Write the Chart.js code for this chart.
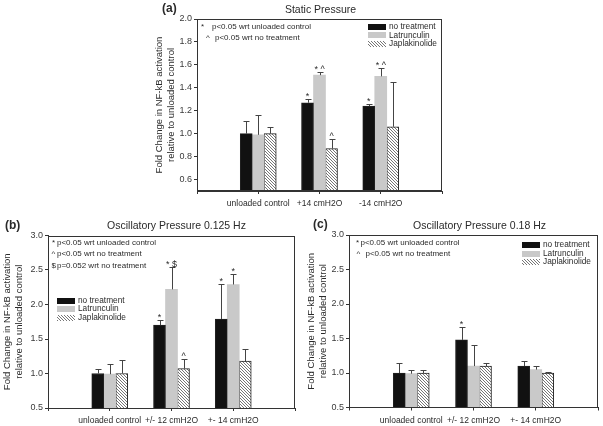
<!DOCTYPE html>
<html>
<head>
<meta charset="utf-8">
<script src="https://cdn.jsdelivr.net/npm/chart.js@4"></script>
<style>
  html, body { margin: 0; padding: 0; background: #fff; }
  body { width: 603px; height: 426px; position: relative; overflow: hidden; }
  canvas { position: absolute; }
</style>
</head>
<body>
<canvas id="chartA" width="310" height="215" style="left:150px;top:0px"></canvas>
<canvas id="chartB" width="300" height="211" style="left:0px;top:215px"></canvas>
<canvas id="chartC" width="303" height="211" style="left:300px;top:215px"></canvas>
<script>
// ---- data ----
const treatments = ['no treatment', 'Latrunculin', 'Japlakinolide'];
const yTitle = ['Fold Change in NF-kB activation', 'relative to unloaded control'];

// (a) static pressure
const staticCats = ['unloaded control', '+14 cmH2O', '-14 cmH2O'];
const staticNoTreat = [1.00, 1.27, 1.24];
const staticLatr = [0.99, 1.51, 1.50];
const staticJapl = [1.00, 0.87, 1.06];
const staticNoTreatErr = [1.11, 1.30, 1.26];
const staticLatrErr = [1.16, 1.54, 1.57];
const staticJaplErr = [1.06, 0.95, 1.45];
const staticMarks = [['', '*', '*'], ['', '* ^', '* ^'], ['', '^', '']];
const staticTicks = [0.6, 0.8, 1.0, 1.2, 1.4, 1.6, 1.8, 2.0];
const staticNotes = [['*', 'p<0.05 wrt unloaded control'], ['^', 'p<0.05 wrt no treatment']];

// (b) oscillatory 0.125 Hz
const oscCats = ['unloaded control', '+/- 12 cmH2O', '+- 14 cmH2O'];
const slowNoTreat = [1.00, 1.70, 1.79];
const slowLatr = [0.99, 2.22, 2.29];
const slowJapl = [1.00, 1.07, 1.18];
const slowNoTreatErr = [1.07, 1.77, 2.30];
const slowLatrErr = [1.14, 2.55, 2.44];
const slowJaplErr = [1.19, 1.21, 1.35];
const slowMarks = [['', '*', '*'], ['', '* $', '*'], ['', '^', '']];
const slowNotes = [['*', 'p<0.05 wrt unloaded control'], ['^', 'p<0.05 wrt no treatment'], ['$', 'p=0.052 wrt no treatment']];

// (c) oscillatory 0.18 Hz
const fastNoTreat = [1.00, 1.48, 1.10];
const fastLatr = [0.99, 1.10, 1.05];
const fastJapl = [1.00, 1.10, 1.00];
const fastNoTreatErr = [1.14, 1.67, 1.18];
const fastLatrErr = [1.04, 1.41, 1.10];
const fastJaplErr = [1.05, 1.14, 1.02];
const fastMarks = [['', '*', ''], ['', '', ''], ['', '', '']];
const fastNotes = [['*', 'p<0.05 wrt unloaded control'], ['^', 'p<0.05 wrt no treatment']];

const oscTicks = [0.5, 1.0, 1.5, 2.0, 2.5, 3.0];

// ---- drawing ----
const FONT = "'Liberation Sans', Arial, sans-serif";
const TEXT = '#2a2a2a';
const AXIS = '#333';

function hatch() {
  const c = document.createElement('canvas');
  c.width = 3; c.height = 3;
  const g = c.getContext('2d');
  g.fillStyle = '#fff';
  g.fillRect(0, 0, 3, 3);
  g.strokeStyle = '#666';
  g.lineWidth = 0.9;
  g.beginPath();
  g.moveTo(-1, -1); g.lineTo(4, 4);
  g.moveTo(2, -1); g.lineTo(4, 1);
  g.moveTo(-1, 2); g.lineTo(1, 4);
  g.stroke();
  return g.createPattern(c, 'repeat');
}
const fills = ['#111', '#c9c9c9', hatch()];

function makeChart(id, p) {
  const pad = arr => [null, ...arr, null];
  const datasets = p.series.map((vals, i) => ({
    label: treatments[i],
    data: pad(vals),
    backgroundColor: fills[i],
    borderColor: '#222',
    borderWidth: i === 1 ? 0 : 1,
    barThickness: 12
  }));

  const decor = {
    id: 'decor' + id,
    afterDatasetsDraw(chart) {
      const ctx = chart.ctx;
      const ys = chart.scales.y;
      ctx.save();
      ctx.strokeStyle = '#444';
      ctx.lineWidth = 1;
      p.errs.forEach((errs, i) => {
        const meta = chart.getDatasetMeta(i);
        errs.forEach((e, j) => {
          const el = meta.data[j + 1];
          const x = Math.round(el.x) + 0.5;
          const yt = Math.round(ys.getPixelForValue(e)) + 0.5;
          ctx.beginPath();
          ctx.moveTo(x, el.y);
          ctx.lineTo(x, yt);
          ctx.moveTo(x - 3, yt);
          ctx.lineTo(x + 3, yt);
          ctx.stroke();
          const m = p.marks[i][j];
          if (m) {
            ctx.fillStyle = TEXT;
            ctx.font = '9px ' + FONT;
            ctx.textAlign = 'center';
            ctx.textBaseline = 'alphabetic';
            ctx.fillText(m, el.x, yt - 1);
          }
        });
      });
      ctx.restore();
    },
    afterDraw(chart) {
      const ctx = chart.ctx;
      const a = chart.chartArea;
      ctx.save();
      // frame
      ctx.strokeStyle = AXIS;
      ctx.lineWidth = 1;
      ctx.strokeRect(Math.round(a.left) + 0.5, Math.round(a.top) + 0.5,
        Math.round(a.right - a.left) - 1, Math.round(a.bottom - a.top) - 1);
      // title and panel letter
      ctx.fillStyle = TEXT;
      ctx.textBaseline = 'middle';
      ctx.textAlign = 'center';
      ctx.font = '10.5px ' + FONT;
      ctx.fillText(p.title, (a.left + a.right) / 2 + p.titleShift, a.top - 9);
      ctx.textAlign = 'left';
      ctx.font = 'bold 12px ' + FONT;
      ctx.fillText(p.letter, a.left + p.letterDx, a.top - 10);
      // significance notes
      ctx.font = '8px ' + FONT;
      p.notes.forEach((n, i) => {
        const y = a.top + 7.5 + i * 11.2;
        ctx.fillText(n[0], a.left + p.noteSym[i], y);
        ctx.fillText(n[1], a.left + p.noteText[i], y);
      });
      // legend
      ctx.font = '8.3px ' + FONT;
      const lx = p.legRight ? a.right - p.legX : a.left + p.legX;
      treatments.forEach((t, i) => {
        const y = a.top + p.legY + i * 8.6;
        ctx.fillStyle = fills[i];
        ctx.fillRect(lx, Math.round(y - 3), 18, 6);
        ctx.fillStyle = TEXT;
        ctx.fillText(t, lx + 21, y);
      });
      ctx.restore();
    }
  };

  return new Chart(document.getElementById(id), {
    type: 'bar',
    data: { labels: ['', ...p.cats, ''], datasets },
    options: {
      responsive: false,
      animation: false,
      devicePixelRatio: 1,
      layout: { padding: p.padding },
      plugins: { legend: { display: false }, tooltip: { enabled: false } },
      scales: {
        x: {
          offset: false,
          grid: { display: true, offset: false, drawOnChartArea: false, drawTicks: true, tickLength: 3, color: AXIS },
          border: { display: true, color: AXIS },
          ticks: { font: { family: FONT, size: 8.5 }, color: TEXT, padding: 5, autoSkip: false, maxRotation: 0 },
          afterFit: s => { s.height = p.xH; }
        },
        y: {
          min: p.min,
          max: p.max,
          afterBuildTicks: s => { s.ticks = p.ticks.map(v => ({ value: v })); },
          grid: { display: true, drawOnChartArea: false, drawTicks: true, tickLength: 3, color: AXIS },
          border: { display: true, color: AXIS },
          ticks: { font: { family: FONT, size: 9 }, color: '#3a3a3a', padding: 2, callback: v => Number(v).toFixed(1) },
          title: { display: true, text: yTitle, color: TEXT, padding: 0, font: { family: FONT, size: 9.5, lineHeight: 1.2 } },
          afterFit: s => { s.width = p.yW; }
        }
      }
    },
    plugins: [decor]
  });
}

makeChart('chartA', {
  cats: staticCats,
  series: [staticNoTreat, staticLatr, staticJapl],
  errs: [staticNoTreatErr, staticLatrErr, staticJaplErr],
  marks: staticMarks,
  ticks: staticTicks, min: 0.5, max: 2.0,
  notes: staticNotes, noteSym: [4, 9], noteText: [15, 18],
  title: 'Static Pressure', titleShift: 1, letter: '(a)', letterDx: -35,
  legRight: true, legX: 74, legY: 7.7,
  padding: { left: 4, top: 19, right: 18, bottom: 0 }, yW: 43, xH: 24
});

makeChart('chartB', {
  cats: oscCats,
  series: [slowNoTreat, slowLatr, slowJapl],
  errs: [slowNoTreatErr, slowLatrErr, slowJaplErr],
  marks: slowMarks,
  ticks: oscTicks, min: 0.5, max: 3.0,
  notes: slowNotes, noteSym: [4, 3.5, 3.5], noteText: [9, 9, 9],
  title: 'Oscillatory Pressure 0.125 Hz', titleShift: 5, letter: '(b)', letterDx: -43,
  legRight: false, legX: 9, legY: 65,
  padding: { left: 2, top: 20.5, right: 5, bottom: 0 }, yW: 46, xH: 18
});

makeChart('chartC', {
  cats: oscCats,
  series: [fastNoTreat, fastLatr, fastJapl],
  errs: [fastNoTreatErr, fastLatrErr, fastJaplErr],
  marks: fastMarks,
  ticks: oscTicks, min: 0.5, max: 3.0,
  notes: fastNotes, noteSym: [7, 7.5], noteText: [11.5, 16.5],
  title: 'Oscillatory Pressure 0.18 Hz', titleShift: 6, letter: '(c)', letterDx: -36,
  legRight: true, legX: 76, legY: 10,
  padding: { left: 6, top: 20, right: 4, bottom: 0 }, yW: 43, xH: 18.5
});
</script>
</body>
</html>
